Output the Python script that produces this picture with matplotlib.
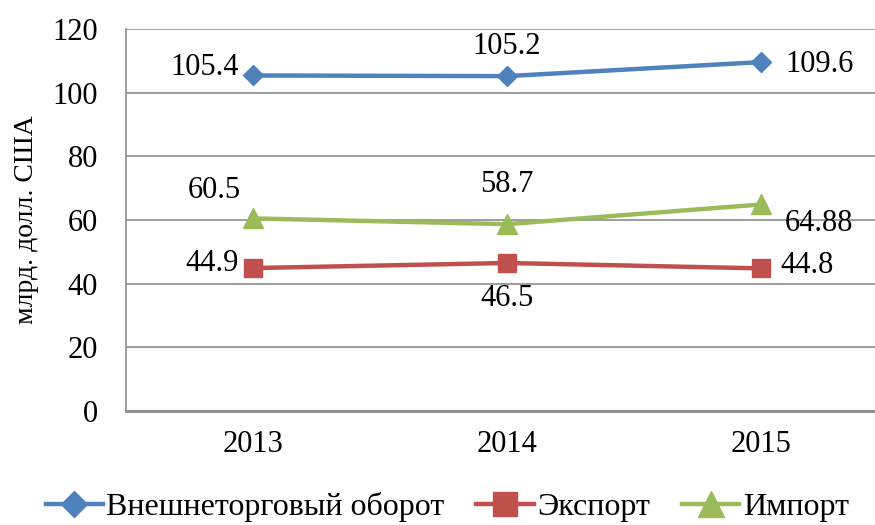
import matplotlib
matplotlib.use("Agg")
import matplotlib.pyplot as plt

years = ["2013", "2014", "2015"]
turnover = [105.4, 105.2, 109.6]
export = [44.9, 46.5, 44.8]
imports = [60.5, 58.7, 64.88]
turnover_labels = ["105.4", "105.2", "109.6"]
export_labels = ["44.9", "46.5", "44.8"]
import_labels = ["60.5", "58.7", "64.88"]
series_names = ["Внешнеторговый оборот", "Экспорт", "Импорт"]

plt.rcParams['font.family'] = ['Liberation Serif', 'DejaVu Serif']

W, H = 875, 525
fig = plt.figure(figsize=(W / 100, H / 100), dpi=100)
left, right, top, bottom = 126, 888, 29, 411
ax = fig.add_axes([left / W, 1 - bottom / H, (right - left) / W, (bottom - top) / H])

x = list(range(len(years)))
c_blue, c_red, c_green = "#4F81BD", "#C0504D", "#9BBB59"
l1, = ax.plot(x, turnover, color=c_blue, lw=3.2, marker="D", ms=10, label=series_names[0], zorder=3)
l2, = ax.plot(x, export, color=c_red, lw=3.2, marker="s", ms=13, label=series_names[1], zorder=3)
l3, = ax.plot(x, imports, color=c_green, lw=3.2, marker="^", ms=14, label=series_names[2], zorder=3)

ax.set_xlim(-0.5, 2.5)
ax.set_ylim(0, 120)
ax.set_yticks(range(0, 121, 20))
ax.set_xticks(x)
ax.set_xticklabels(years)
ax.grid(axis="y", color="#8C8C8C", lw=1.2)
ax.set_axisbelow(True)
for s in ["top", "right"]:
    ax.spines[s].set_visible(False)
ax.spines["left"].set_color("#8C8C8C")
ax.spines["left"].set_linewidth(1.2)
ax.spines["bottom"].set_color("#8C8C8C")
ax.spines["bottom"].set_linewidth(2.0)
fs = 22
ax.tick_params(axis="y", length=0, labelsize=fs, pad=20)
ax.tick_params(axis="x", length=0, labelsize=fs, pad=14)
ax.set_ylabel("млрд. долл. США", fontsize=20, labelpad=10)

k = 0.72  # px -> pt
def lab(xi, yi, t, dx, dy, ha, va):
    ax.annotate(t, (xi, yi), xytext=(dx * k, dy * k), textcoords="offset points",
                ha=ha, va=va, fontsize=fs)

# turnover
lab(0, turnover[0], turnover_labels[0], -14, 8, "right", "center")
lab(1, turnover[1], turnover_labels[1], 0, 30, "center", "center")
lab(2, turnover[2], turnover_labels[2], 24, -2, "left", "center")
# import
lab(0, imports[0], import_labels[0], -39, 28, "center", "center")
lab(1, imports[1], import_labels[1], 0, 40, "center", "center")
lab(2, imports[2], import_labels[2], 24, -19, "left", "center")
# export
lab(0, export[0], export_labels[0], -14, 5, "right", "center")
lab(1, export[1], export_labels[1], 0, -36, "center", "center")
lab(2, export[2], export_labels[2], 19, 3, "left", "center")

fig.legend(handles=[l1, l2, l3], loc="center", bbox_to_anchor=(0.511, 1 - 507 / H),
           ncol=3, frameon=False, fontsize=23, handlelength=1.8, handletextpad=0.1,
           columnspacing=1.0, markerscale=1.3)

fig.savefig("out.png", dpi=100)
